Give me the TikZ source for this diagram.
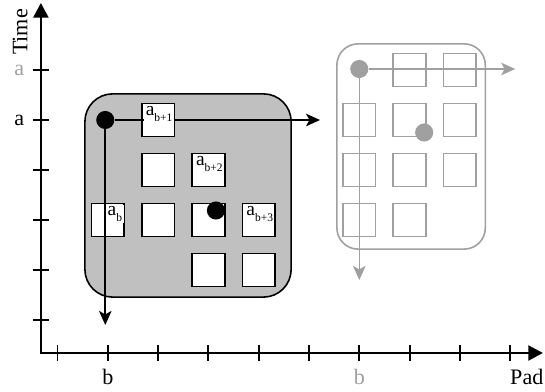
\documentclass[tikz,border=0pt]{standalone}
\usepackage{fontspec}
\setmainfont{Liberation Serif}
\usetikzlibrary{arrows.meta}

\definecolor{shade}{RGB}{192,192,192}
\definecolor{ghost}{RGB}{160,160,160}
\newcommand{\elem}[1]{a\raisebox{-3.5pt}{\fontsize{6.5}{7}\selectfont #1}}

\begin{document}
\begin{tikzpicture}[x=1cm, y=0.994cm,
    axis/.style={line width=1.1pt},
    lbl/.style={font=\fontsize{12.5}{14}\selectfont, inner sep=0pt},
    panel/.style={draw, line width=0.9pt, inner sep=0pt},
    cell/.style={draw, line width=0.9pt, fill=white, minimum size=0.65cm, inner sep=0pt},
    tag/.style={fill=white, inner sep=0.8pt, anchor=north east, xshift=-0.6pt, yshift=-0.8pt,
      font=\fontsize{11}{12}\selectfont},
    dot/.style={circle, fill, minimum size=0.36cm, inner sep=0pt},
    walk/.style={line width=0.9pt, -{Stealth[length=2.8mm, width=2.5mm, inset=0.7mm]}}
  ]
  \useasboundingbox (-1.143,-0.44) rectangle (9.692,7.4);

  % axes
  \coordinate (O) at (-0.33,0.34);
  \coordinate (ytop) at (-0.33,7.34);
  \coordinate (xend) at (9.65,0.34);
  \draw[axis, {Triangle[length=2.9mm, width=3mm]}-{Triangle[length=2.9mm, width=3mm]}]
    (ytop) -- (O) -- (xend);
  \foreach \i in {0,...,9}
    \draw[axis] (\i,0.18) -- (\i,0.5);
  \foreach \j in {1,...,6}
    \draw[axis] (-0.49,\j) -- (-0.17,\j);

  \node[lbl, rotate=90] (time) at (-0.74,6.76) {Time};
  \node[lbl, text=ghost] (ga) at (-0.76,6) {a};
  \node[lbl] (ka) at (-0.76,5) {a};
  \node[lbl, anchor=base] (kb) at (1,-0.3) {b};
  \node[lbl, anchor=base, text=ghost] (gb) at (6,-0.3) {b};
  \node[lbl, anchor=base] (pad) at (9.33,-0.3) {Pad};

  % windows
  \node[panel, fill=shade, rounded corners=0.55cm, minimum width=4.1cm, minimum height=4.04cm]
    (win) at (2.595,3.49) {};
  \node[panel, draw=ghost, rounded corners=0.42cm, minimum width=2.95cm, minimum height=4.08cm]
    (gwin) at (7.03,4.47) {};

  % cells
  \foreach \i/\j in {2/5,2/4,3/4,1/3,2/3,3/3,4/3,3/2,4/2}
    \node[cell] (m\i\j) at (\i,\j) {};
  \foreach \i/\j in {7/6,8/6,6/5,7/5,8/5,6/4,7/4,8/4,6/3,7/3}
    \node[cell, draw=ghost] (g\i\j) at (\i,\j) {};

  % walks
  \node[dot] (d1) at (0.95,5) {};
  \coordinate (h1) at (5.22,5);
  \coordinate (v1) at (0.95,0.9);
  \draw[walk] (d1) -- (h1);
  \draw[walk] (d1) -- (v1);

  \node[dot, ghost] (g1) at (6,6.02) {};
  \coordinate (h2) at (9.1,6.02);
  \coordinate (v2) at (6,1.8);
  \draw[walk, ghost] (g1) -- (h2);
  \draw[walk, ghost] (g1) -- (v2);

  \node[tag] (t25) at (m25.north east) {\elem{b+1}};
  \node[tag] (t34) at (m34.north east) {\elem{b+2}};
  \node[tag] (t13) at (m13.north east) {\elem{b}};
  \node[tag] (t43) at (m43.north east) {\elem{b+3}};

  \node[dot] (d2) at (3.15,3.19) {};
  \node[dot, ghost] (g2) at (7.29,4.75) {};
\end{tikzpicture}
\end{document}
